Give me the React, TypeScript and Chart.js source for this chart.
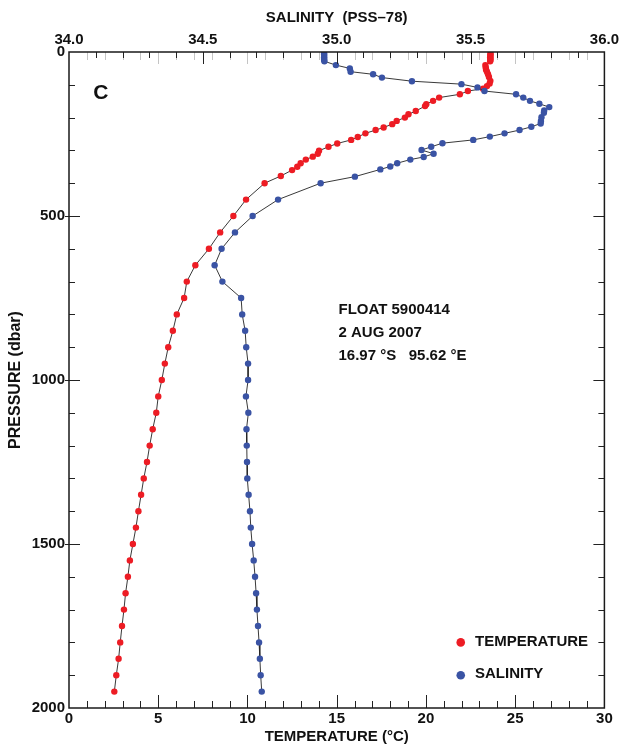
import React, { useEffect, useRef } from 'react';
import { Chart, registerables } from 'chart.js';

Chart.register(...registerables);

// ---- data ----
const tempPressure = [4, 8, 12, 16, 20, 24, 28, 40, 47, 54, 60, 68, 76, 88, 96, 104, 112, 119, 129, 139, 149, 159, 165, 180, 190, 200, 210, 220, 230, 238, 248, 259, 268, 279, 289, 301, 310, 319, 328, 339, 350, 360, 378, 400, 450, 500, 550, 600, 650, 700, 750, 800, 850, 900, 950, 1000, 1050, 1100, 1150, 1200, 1250, 1300, 1350, 1400, 1450, 1500, 1550, 1600, 1650, 1700, 1750, 1800, 1850, 1900, 1950];
const temperature = [23.62, 23.61, 23.62, 23.6, 23.61, 23.62, 23.6, 23.33, 23.35, 23.37, 23.42, 23.48, 23.53, 23.61, 23.57, 23.42, 23.2, 22.35, 21.9, 20.74, 20.4, 20.02, 19.95, 19.43, 19.02, 18.82, 18.36, 18.11, 17.63, 17.18, 16.61, 16.18, 15.81, 15.03, 14.54, 14.01, 13.94, 13.66, 13.27, 12.98, 12.79, 12.5, 11.87, 10.96, 9.92, 9.21, 8.47, 7.84, 7.08, 6.6, 6.45, 6.04, 5.82, 5.56, 5.37, 5.2, 5.0, 4.89, 4.69, 4.52, 4.37, 4.19, 4.04, 3.89, 3.75, 3.58, 3.41, 3.3, 3.17, 3.08, 2.97, 2.87, 2.78, 2.65, 2.54];

const salPressure = [4, 8, 12, 16, 20, 24, 28, 40, 50, 60, 68, 78, 89, 98, 108, 119, 129, 139, 149, 158, 168, 178, 185, 199, 210, 218, 228, 238, 248, 258, 268, 278, 289, 299, 310, 320, 328, 339, 349, 358, 380, 400, 450, 500, 550, 600, 650, 700, 750, 800, 850, 900, 950, 1000, 1050, 1100, 1150, 1200, 1250, 1300, 1350, 1400, 1450, 1500, 1550, 1600, 1650, 1700, 1750, 1800, 1850, 1900, 1950];
const salinity = [34.953, 34.953, 34.953, 34.953, 34.953, 34.953, 34.954, 34.997, 35.049, 35.052, 35.136, 35.169, 35.281, 35.466, 35.526, 35.552, 35.67, 35.697, 35.722, 35.757, 35.794, 35.775, 35.774, 35.765, 35.763, 35.762, 35.727, 35.683, 35.627, 35.572, 35.51, 35.395, 35.353, 35.317, 35.362, 35.325, 35.275, 35.226, 35.2, 35.163, 35.068, 34.94, 34.781, 34.686, 34.62, 34.57, 34.544, 34.573, 34.643, 34.647, 34.658, 34.662, 34.669, 34.669, 34.661, 34.67, 34.663, 34.664, 34.665, 34.666, 34.671, 34.676, 34.679, 34.684, 34.69, 34.695, 34.699, 34.702, 34.706, 34.71, 34.713, 34.716, 34.72];

const temperatureTicks = [0, 5, 10, 15, 20, 25, 30];
const salinityTicks = [34.0, 34.5, 35.0, 35.5, 36.0];
const pressureTicks = [0, 500, 1000, 1500, 2000];

const infoLines = ['FLOAT 5900414', '2 AUG 2007', '16.97 \u00B0S   95.62 \u00B0E'];
const panelLabel = 'C';
const seriesNames = ['TEMPERATURE', 'SALINITY'];

const RED = '#ED1C24';
const BLUE = '#3A53A4';
const FONT = '"Liberation Sans", Arial, Helvetica, sans-serif';

const framePlugin = {
  id: 'frameTicks',
  afterDraw(chart: any) {
    const { ctx, chartArea, scales } = chart;
    const { left, right, top, bottom } = chartArea;
    const xs = scales.x, xs2 = scales.x2, ys = scales.y;
    const line = (a: number, b: number, c: number, d: number) => {
      ctx.beginPath();
      ctx.moveTo(a, b);
      ctx.lineTo(c, d);
      ctx.stroke();
    };
    ctx.save();
    ctx.lineWidth = 1;
    // top gray temperature ticks
    ctx.strokeStyle = '#c4c4c4';
    for (let t = 1; t < 30; t++) {
      const px = Math.round(xs.getPixelForValue(t)) + 0.5;
      line(px, top, px, top + (t % 5 === 0 ? 12 : 8));
    }
    // top salinity ticks
    ctx.strokeStyle = '#222';
    for (let i = 1; i < 20; i++) {
      const s = 34 + i * 0.1;
      const px = Math.round(xs2.getPixelForValue(s)) + 0.5;
      line(px, top, px, top + (i % 5 === 0 ? 12 : 6));
    }
    // bottom temperature ticks
    for (let t = 1; t < 30; t++) {
      const px = Math.round(xs.getPixelForValue(t)) + 0.5;
      line(px, bottom, px, bottom - (t % 5 === 0 ? 13 : 7));
    }
    // left / right pressure ticks
    for (let p = 100; p < 2000; p += 100) {
      const py = Math.round(ys.getPixelForValue(p)) + 0.5;
      if (p % 500 === 0) {
        line(left - 4, py, left + 11, py);
        line(right, py, right - 11, py);
      } else {
        line(left, py, left + 6, py);
        line(right, py, right - 6, py);
      }
    }
    // frame
    ctx.strokeStyle = '#1a1a1a';
    ctx.lineWidth = 1.5;
    ctx.strokeRect(left, top, right - left, bottom - top);

    // panel label
    ctx.fillStyle = '#111';
    ctx.textBaseline = 'middle';
    ctx.textAlign = 'center';
    ctx.font = `bold 21px ${FONT}`;
    ctx.fillText(panelLabel, xs.getPixelForValue(1.78), ys.getPixelForValue(125));

    // info text
    ctx.textAlign = 'left';
    ctx.font = `bold 15px ${FONT}`;
    const infoP = [785, 856, 927];
    infoLines.forEach((t, i) => {
      ctx.fillText(t, xs.getPixelForValue(15.1), ys.getPixelForValue(infoP[i]));
    });

    // legend
    const legP = [1800, 1900];
    const legColors = [RED, BLUE];
    seriesNames.forEach((name, i) => {
      const cy = ys.getPixelForValue(legP[i]);
      const cx = xs.getPixelForValue(21.95);
      ctx.fillStyle = legColors[i];
      ctx.beginPath();
      ctx.arc(cx, cy, 4.3, 0, Math.PI * 2);
      ctx.fill();
      ctx.fillStyle = '#111';
      ctx.font = `bold 15px ${FONT}`;
      ctx.fillText(name, xs.getPixelForValue(22.75), cy - 1);
    });
    ctx.restore();
  },
};

export default function App() {
  const ref = useRef<HTMLCanvasElement | null>(null);
  useEffect(() => {
    if (!ref.current) return;
    const tempData = temperature.map((v, i) => ({ x: v, y: tempPressure[i] }));
    const salData = salinity.map((v, i) => ({ x: v, y: salPressure[i] }));
    const tickFont = { family: FONT, size: 15, weight: 'bold' as const, lineHeight: 1 };
    const titleFont = { family: FONT, size: 15, weight: 'bold' as const, lineHeight: 1.2 };
    const chart = new Chart(ref.current, {
      type: 'scatter',
      data: {
        datasets: [
          {
            label: seriesNames[1],
            data: salData,
            xAxisID: 'x2',
            yAxisID: 'y',
            showLine: true,
            borderColor: '#222',
            borderWidth: 0.9,
            pointBackgroundColor: BLUE,
            pointBorderWidth: 0,
            pointRadius: 3.2,
          },
          {
            label: seriesNames[0],
            data: tempData,
            xAxisID: 'x',
            yAxisID: 'y',
            showLine: true,
            borderColor: '#222',
            borderWidth: 0.9,
            pointBackgroundColor: RED,
            pointBorderWidth: 0,
            pointRadius: 3.2,
          },
        ],
      },
      options: {
        responsive: false,
        animation: false,
        layout: { padding: { left: 0, right: 16, top: 0, bottom: 0 } },
        plugins: { legend: { display: false }, tooltip: { enabled: false } },
        scales: {
          x: {
            type: 'linear',
            position: 'bottom',
            min: 0,
            max: 30,
            afterFit: (s: any) => { s.height = 38; },
            afterBuildTicks: (s: any) => { s.ticks = temperatureTicks.map((v) => ({ value: v })); },
            grid: { display: false, drawTicks: false },
            border: { display: false },
            ticks: { color: '#111', font: tickFont, padding: 3, autoSkip: false, maxRotation: 0, callback: (v: any) => String(v) },
            title: { display: true, text: 'TEMPERATURE (\u00B0C)', color: '#111', font: titleFont, padding: { top: 0, bottom: 0 } },
          },
          x2: {
            type: 'linear',
            position: 'top',
            min: 34,
            max: 36,
            afterFit: (s: any) => { s.height = 52; },
            afterBuildTicks: (s: any) => { s.ticks = salinityTicks.map((v) => ({ value: v })); },
            grid: { display: false, drawTicks: false },
            border: { display: false },
            ticks: { color: '#111', font: tickFont, padding: 5, autoSkip: false, maxRotation: 0, callback: (v: any) => Number(v).toFixed(1) },
            title: { display: true, text: 'SALINITY  (PSS\u201378)', color: '#111', font: titleFont, padding: { top: 9, bottom: 0 } },
          },
          y: {
            type: 'linear',
            position: 'left',
            reverse: true,
            min: 0,
            max: 2000,
            afterFit: (s: any) => { s.width = 69; },
            afterBuildTicks: (s: any) => { s.ticks = pressureTicks.map((v) => ({ value: v })); },
            grid: { display: false, drawTicks: false },
            border: { display: false },
            ticks: { color: '#111', font: tickFont, padding: 4, autoSkip: false, callback: (v: any) => String(v) },
            title: { display: true, text: 'PRESSURE (dbar)', color: '#111', font: { ...titleFont, size: 16 }, padding: { top: 6, bottom: 0 } },
          },
        },
      } as any,
      plugins: [framePlugin],
    });
    return () => chart.destroy();
  }, []);
  return (
    <div style={{ position: 'absolute', left: 0, top: 0, width: 624, height: 746, background: '#fff' }}>
      <canvas ref={ref} width={624} height={746} style={{ display: 'block' }} />
    </div>
  );
}
